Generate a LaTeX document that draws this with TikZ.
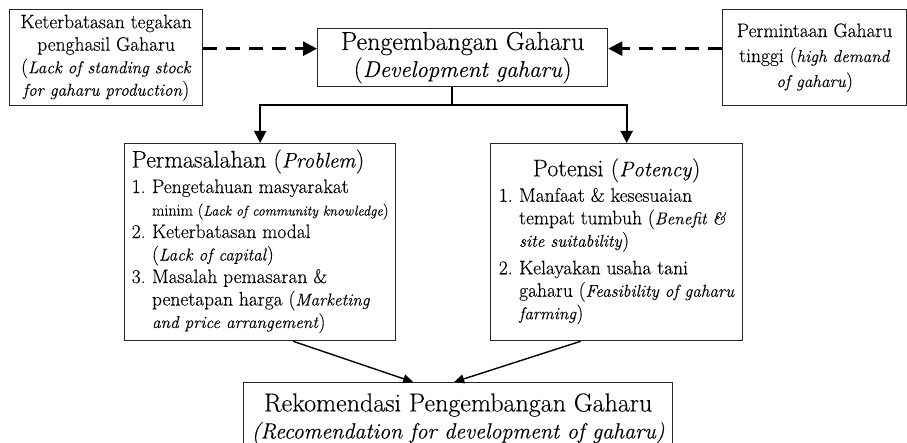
\documentclass[tikz,border=0pt]{standalone}
\usepackage{fontspec}
\setmainfont{Latin Modern Roman}[FakeBold=0.2, ItalicFeatures={Scale=0.88}]
\usetikzlibrary{arrows.meta}

\newcommand{\isi}{\fontsize{19.5}{22.5}\selectfont}
\newcommand{\judul}{\fontsize{26}{27}\selectfont}
\newcommand{\subjudul}{\fontsize{24}{25}\selectfont}
\newcommand{\kecil}{\fontsize{16}{22.5}\selectfont}

\tikzset{
	kotak/.style={draw=black!85, line width=1.3pt, anchor=north west, inner sep=0pt, align=center},
	panahputus/.style={line width=2.6pt, dash pattern=on 14pt off 9pt, -{Triangle[length=14pt,width=14pt]}},
	panah/.style={line width=1.8pt, -{Triangle[length=12pt,width=12pt]}},
	panahkecil/.style={line width=1.4pt, -{Triangle[length=10pt,width=9pt]}},
}

\begin{document}
\begin{tikzpicture}[x=1pt,y=-1pt]
	% frame
	\clip (0,0) rectangle (907,443);

	% top row
	\node[kotak, minimum width=193pt, minimum height=96pt, font=\isi] (terbatas) at (9,9)
		{Keterbatasan tegakan\\ penghasil Gaharu\\ (\textit{Lack of standing stock}\\ \textit{for gaharu production})};
	\node[kotak, minimum width=290pt, minimum height=58pt, font=\judul] (kembang) at (317,28)
		{Pengembangan Gaharu\\ (\textit{Development gaharu})};
	\node[kotak, minimum width=184pt, minimum height=96pt, font=\fontsize{19.5}{25}\selectfont] (permintaan) at (722,9)
		{Permintaan Gaharu\\ tinggi (\textit{high demand}\\ \textit{of gaharu})};

	% middle row
	\node[kotak, minimum width=271pt, minimum height=197pt, font=\isi] (masalah) at (124,143)
		{\begin{tabular}{@{}r@{\,\,}l@{}}
			\multicolumn{2}{@{}l@{}}{\subjudul Permasalahan (\textit{Problem})}\\[3pt]
			1. & Pengetahuan masyarakat\\
			   & {\kecil minim (\textit{Lack of community knowledge})}\\
			2. & Keterbatasan modal\\
			   & (\textit{Lack of capital})\\
			3. & Masalah pemasaran \&\\
			   & penetapan harga (\textit{Marketing}\\
			   & \textit{and price arrangement})
		\end{tabular}};
	\node[kotak, minimum width=252pt, minimum height=197pt, font=\isi] (potensi) at (490,143)
		{\begin{tabular}{@{}r@{\,\,}l@{}}
			\multicolumn{2}{c}{\subjudul Potensi (\textit{Potency})}\\[3pt]
			1. & Manfaat \& kesesuaian\\
			   & tempat tumbuh (\textit{Benefit \&}\\
			   & \textit{site suitability})\\[5pt]
			2. & Kelayakan usaha tani\\
			   & gaharu (\textit{Feasibility of gaharu}\\
			   & \textit{farming})
		\end{tabular}};

	% bottom box
	\node[kotak, minimum width=429pt, minimum height=72pt, font=\judul] (rekomendasi) at (243,382)
		{Rekomendasi Pengembangan Gaharu\\ {\fontsize{25}{25}\selectfont\textit{(Recomendation for development of gaharu)}}};

	% dashed arrows
	\draw[panahputus] ([yshift=9pt]terbatas.east) -- ([yshift=9pt]kembang.west);
	\draw[panahputus] ([yshift=9pt]permintaan.west) -- ([yshift=9pt]kembang.east);

	% branches
	\coordinate (cabang) at (452,105);
	\draw[line width=1.4pt] (kembang.south -| cabang) -- (cabang);
	\draw[panah] (cabang) -| (masalah.north);
	\draw[panah] (cabang) -| ([xshift=10pt]potensi.north);

	% to recommendation
	\draw[panahkecil] ([xshift=33pt]masalah.south) -- ([xshift=-45pt]rekomendasi.north);
	\draw[panahkecil] ([xshift=-36pt]potensi.south) -- ([xshift=-4pt]rekomendasi.north);
\end{tikzpicture}
\end{document}
